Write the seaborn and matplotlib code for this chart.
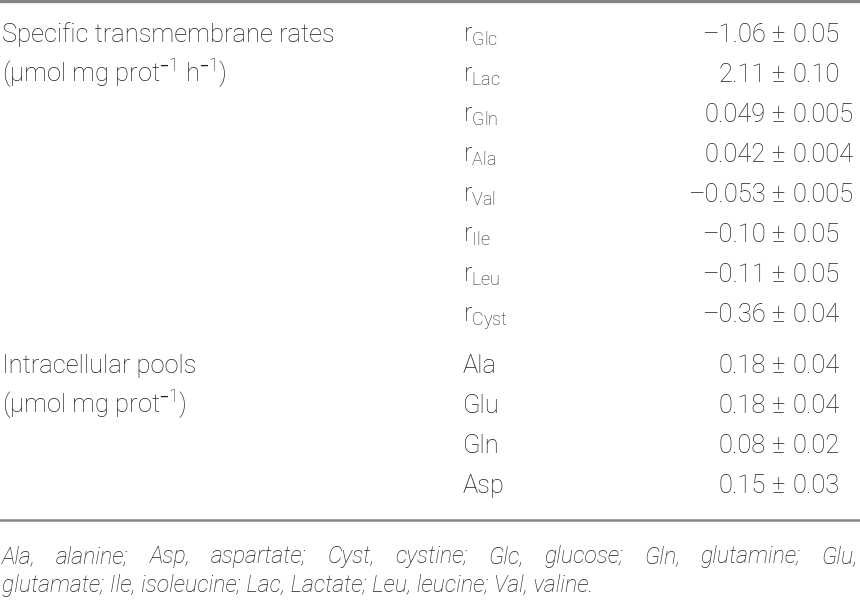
import matplotlib
matplotlib.use("Agg")
import matplotlib.pyplot as plt
import pandas as pd
import seaborn as sns

# table content
groups = ["Specific transmembrane rates", "Intracellular pools"]
group_units = [r"(µmol mg prot$^{–1}$ h$^{–1}$)",
               r"(µmol mg prot$^{–1}$)"]
rate_names = ["Glc", "Lac", "Gln", "Ala", "Val", "Ile", "Leu", "Cyst"]
rate_values = ["–1.06 ± 0.05", "2.11 ± 0.10", "0.049 ± 0.005", "0.042 ± 0.004",
               "–0.053 ± 0.005", "–0.10 ± 0.05", "–0.11 ± 0.05", "–0.36 ± 0.04"]
pool_names = ["Ala", "Glu", "Gln", "Asp"]
pool_values = ["0.18 ± 0.04", "0.18 ± 0.04", "0.08 ± 0.02", "0.15 ± 0.03"]
footnote = ["Ala, alanine; Asp, aspartate; Cyst, cystine; Glc, glucose; Gln, glutamine; Glu,",
            "glutamate; Ile, isoleucine; Lac, Lactate; Leu, leucine; Val, valine."]

rows = pd.DataFrame({
    "group": [0] * len(rate_names) + [1] * len(pool_names),
    "label": [r"r$_{\mathregular{%s}}$" % n for n in rate_names] + pool_names,
    "value": rate_values + pool_values,
})
rows[["mean", "err"]] = rows["value"].str.split(" ± ", expand=True)

sns.set_theme(style="white")
plt.rcParams["font.family"] = ["Roboto", "DejaVu Sans"]
plt.rcParams["mathtext.default"] = "regular"

fig = plt.figure(figsize=(8.6, 6.01), dpi=100)
ax = fig.add_axes([0, 0, 1, 1])
ax.set_xlim(0, 860)
ax.set_ylim(601, 0)
ax.axis("off")
renderer = fig.canvas.get_renderer()

txt = "#231f20"
line_col = "#858585"
fs = 18.4
body = dict(fontsize=fs, color=txt, va="baseline", fontweight="light")

ax.axhline(1, color=line_col, lw=2.4)
ax.axhline(520, color=line_col, lw=1.8)


def baseline(i, group):
    return 42 + 40 * i + (11 if group == 1 else 0)


x_pm = 778
for i, r in rows.iterrows():
    y = baseline(i, r["group"])
    ax.text(463, y, r["label"], ha="left", **body)
    ax.text(x_pm - 12, y, r["mean"], ha="right", **body)
    ax.text(x_pm, y, "±", ha="center", **body)
    ax.text(x_pm + 15, y, r["err"], ha="left", **body)

first_rows = rows.groupby("group").head(1).index
for g, idx in enumerate(first_rows):
    ax.text(2, baseline(idx, g), groups[g], ha="left", **body)
    ax.text(2, baseline(idx + 1, g), group_units[g], ha="left", **body)

# footnote: italic, first line justified to the full width
foot = dict(fontsize=16.6, color=txt, va="baseline", style="italic",
            fontweight="light")
ax.text(2, 592, footnote[1], ha="left", **foot)
words = footnote[0].split(" ")
widths = []
for w in words:
    t = ax.text(0, 0, w, **foot)
    widths.append(t.get_window_extent(renderer).width)
    t.remove()
gap = (856 - sum(widths)) / (len(words) - 1)
x = 2
for w, wd in zip(words, widths):
    ax.text(x, 563, w, ha="left", **foot)
    x += wd + gap

fig.savefig("out.png", dpi=100)
